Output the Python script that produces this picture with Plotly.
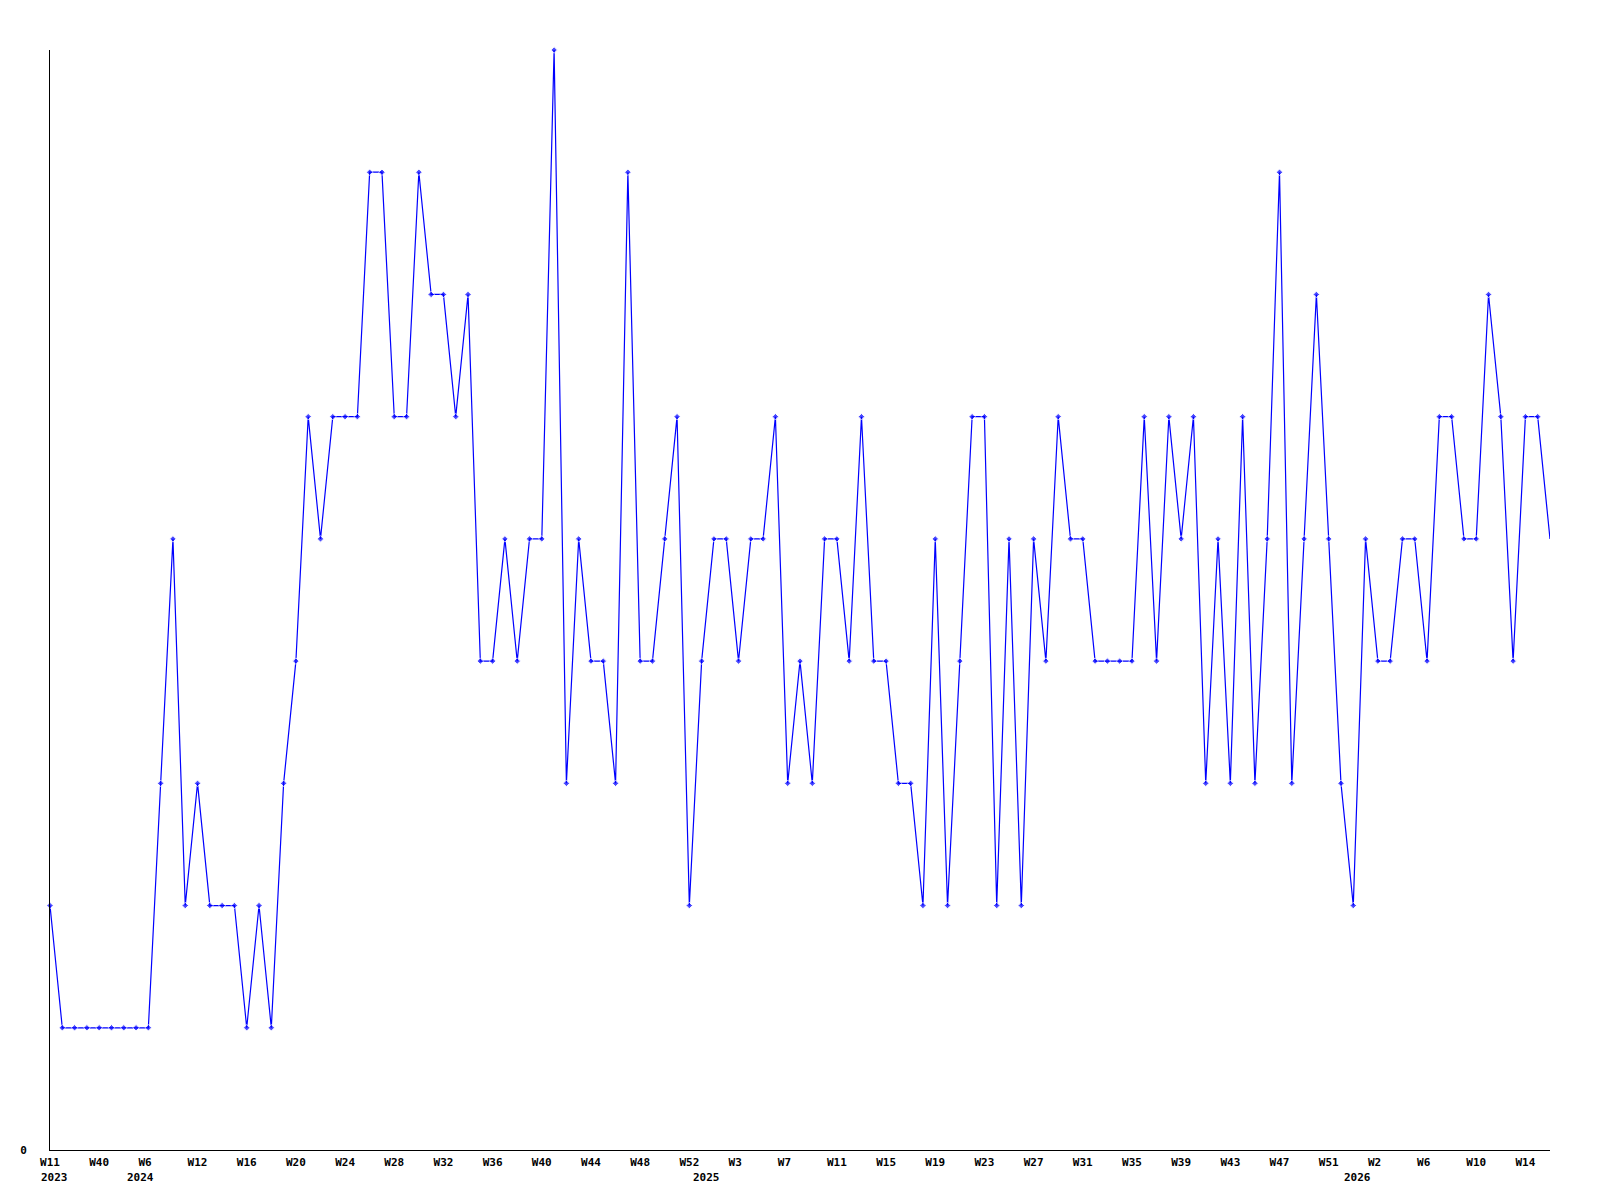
import plotly.graph_objects as go

# Weekly values (one per category, left to right)
values = [2, 1, 1, 1, 1, 1, 1, 1, 1, 3,
          5, 2, 3, 2, 2, 2, 1, 2, 1, 3,
          4, 6, 5, 6, 6, 6, 8, 8, 6, 6,
          8, 7, 7, 6, 7, 4, 4, 5, 4, 5,
          5, 9, 3, 5, 4, 4, 3, 8, 4, 4,
          5, 6, 2, 4, 5, 5, 4, 5, 5, 6,
          3, 4, 3, 5, 5, 4, 6, 4, 4, 3,
          3, 2, 5, 2, 4, 6, 6, 2, 5, 2,
          5, 4, 6, 5, 5, 4, 4, 4, 4, 6,
          4, 6, 5, 6, 3, 5, 3, 6, 3, 5,
          8, 3, 5, 7, 5, 3, 2, 5, 4, 4,
          5, 5, 4, 6, 6, 5, 5, 7, 6, 4,
          6, 6, 5]

# Labelled tick positions (category index) and their texts
tick_idx = [0, 4, 8, 12, 16, 20, 24, 28, 32, 36, 40, 44, 48, 52, 56, 60,
            64, 68, 72, 76, 80, 84, 88, 92, 96, 100, 104, 108, 112, 116, 120]
tick_labels = ["W11", "W40", "W6", "W12", "W16", "W20", "W24", "W28", "W32",
               "W36", "W40", "W44", "W48", "W52", "W3", "W7", "W11", "W15",
               "W19", "W23", "W27", "W31", "W35", "W39", "W43", "W47", "W51",
               "W2", "W6", "W10", "W14"]

# Year labels (category index where the year starts)
year_idx = [0, 7, 53, 106]
year_labels = ["2023", "2024", "2025", "2026"]

x = list(range(len(values)))
marker_sizes = [5] * (len(values) - 1) + [0]

FONT = dict(family="DejaVu Sans Mono", size=11, color="black", weight="bold")

fig = go.Figure()
fig.add_trace(go.Scatter(
    x=x, y=values, mode="lines+markers",
    line=dict(color="#0000ff", width=1.2),
    marker=dict(symbol="diamond", size=marker_sizes, color="#0000ff"),
    cliponaxis=False, showlegend=False,
))

padded = [t if len(t) >= 3 else t + "\u00a0" * (3 - len(t)) for t in tick_labels]

fig.update_xaxes(
    range=[0, len(values) - 1], tickmode="array", tickvals=tick_idx, ticktext=padded,
    showline=True, linecolor="black", linewidth=1, showgrid=False, zeroline=False,
    ticks="", tickfont=FONT, ticklabelstandoff=2,
)
fig.update_yaxes(
    range=[0, 9], tickmode="array", tickvals=[0], ticktext=["0"],
    showline=True, linecolor="black", linewidth=1, showgrid=False, zeroline=False,
    ticks="", tickfont=FONT, ticklabelstandoff=20,
)

for xi, lab in zip(year_idx, year_labels):
    fig.add_annotation(x=xi, y=0, xref="x", yref="paper", text=lab, showarrow=False,
                       xanchor="left", yanchor="middle", xshift=-10, yshift=-27,
                       font=FONT, borderpad=0)

fig.update_layout(
    width=1600, height=1200,
    margin=dict(l=42, r=58, t=42, b=58),
    paper_bgcolor="white", plot_bgcolor="white",
)

fig.write_html("out.html")
